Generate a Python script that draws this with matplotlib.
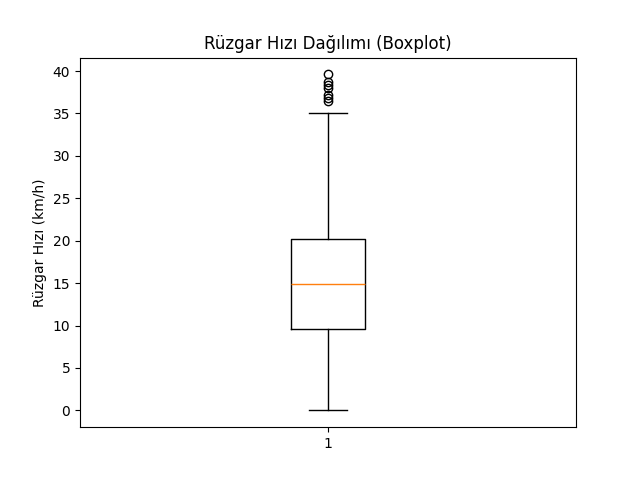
import matplotlib
matplotlib.use('Agg')
import matplotlib.pyplot as plt

# box statistics (km/h)
q1 = 9.6
median = 14.85
q3 = 20.15
whisker_low = 0.0
whisker_high = 35.0
fliers = [36.5, 36.8, 37.2, 38.0, 38.3, 38.7, 39.6]

stats = [{
    'q1': q1, 'med': median, 'q3': q3,
    'whislo': whisker_low, 'whishi': whisker_high,
    'fliers': fliers, 'label': '1',
}]

fig, ax = plt.subplots(figsize=(6.4, 4.8), dpi=100)
ax.bxp(stats)
ax.set_title('Rüzgar Hızı Dağılımı (Boxplot)')
ax.set_ylabel('Rüzgar Hızı (km/h)')
fig.savefig('out.png')
